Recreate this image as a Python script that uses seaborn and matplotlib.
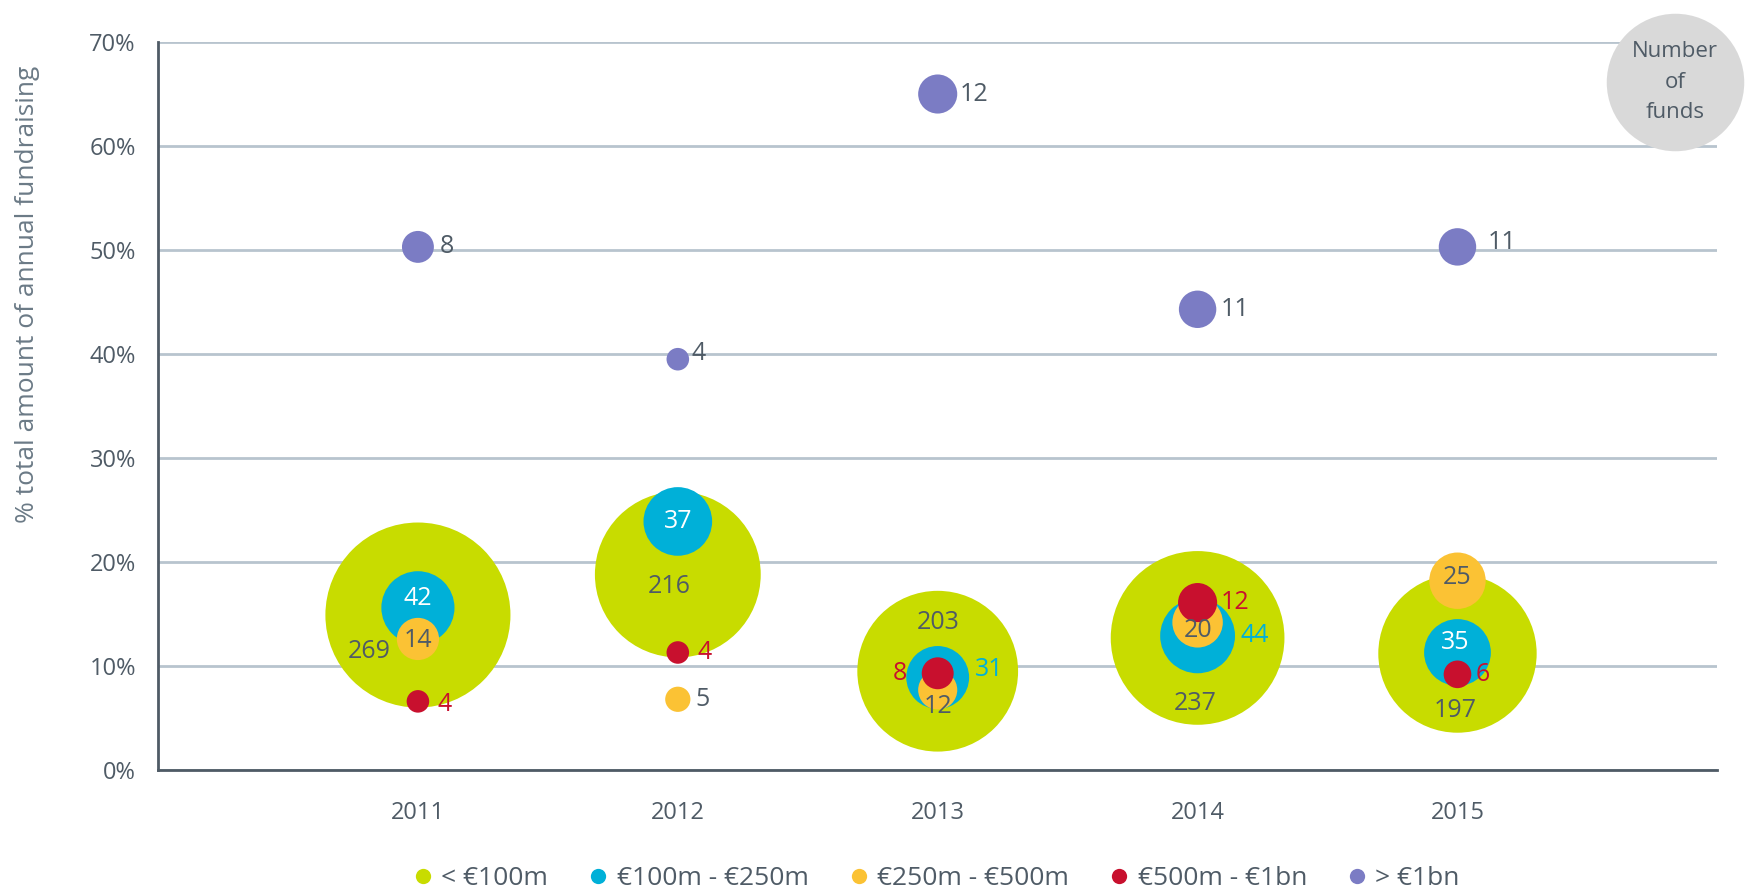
import matplotlib
matplotlib.use("Agg")
import matplotlib.pyplot as plt
from matplotlib.lines import Line2D
import pandas as pd
import seaborn as sns

# data
years = ["2011", "2012", "2013", "2014", "2015"]
series = ["< €100m", "€100m - €250m", "€250m - €500m", "€500m - €1bn", "> €1bn"]

pct_lt100 = [14.9, 18.8, 9.5, 12.7, 11.2]
pct_100_250 = [15.6, 23.9, 8.9, 12.9, 11.3]
pct_250_500 = [12.6, 6.8, 7.7, 14.2, 18.2]
pct_500_1bn = [6.6, 11.3, 9.3, 16.1, 9.2]
pct_gt1bn = [50.3, 39.5, 65.0, 44.3, 50.3]

funds_lt100 = [269, 216, 203, 237, 197]
funds_100_250 = [42, 37, 31, 44, 35]
funds_250_500 = [14, 5, 12, 20, 25]
funds_500_1bn = [4, 4, 8, 12, 6]
funds_gt1bn = [8, 4, 12, 11, 11]

colors = ["#C8DC00", "#00B0D8", "#FBC234", "#C8102E", "#7B7CC4"]
grey = "#4F5B66"

pcts = [pct_lt100, pct_100_250, pct_250_500, pct_500_1bn, pct_gt1bn]
funds = [funds_lt100, funds_100_250, funds_250_500, funds_500_1bn, funds_gt1bn]

rows = []
for s, p, f in zip(series, pcts, funds):
    for i, y in enumerate(years):
        rows.append({"year": y, "xpos": i + 1, "series": s, "pct": p[i], "funds": f[i]})
df = pd.DataFrame(rows)

# label offsets (points) and colours per (series index, year index)
lbl_style = {
    (0, 0): (-35, -26, grey), (1, 0): (0, 7, "white"), (2, 0): (0, -1, grey),
    (3, 0): (19, -2, "#C8102E"), (4, 0): (21, 0, grey),
    (0, 1): (-6, -9, grey), (1, 1): (0, 0, "white"), (2, 1): (18, 0, grey),
    (3, 1): (19, 0, "#C8102E"), (4, 1): (15, 4, grey),
    (0, 2): (0, 35, grey), (1, 2): (37, 6, "#00B0D8"), (2, 2): (0, -12, grey),
    (3, 2): (-27, 0, "#C8102E"), (4, 2): (26, 0, grey),
    (0, 3): (-2, -47, grey), (1, 3): (41, 0, "#00B0D8"), (2, 3): (0, -6, grey),
    (3, 3): (27, 0, "#C8102E"), (4, 3): (27, 0, grey),
    (0, 4): (-2, -41, grey), (1, 4): (-2, 7, "white"), (2, 4): (0, 2, grey),
    (3, 4): (18, 0, "#C8102E"), (4, 4): (32, 3, grey),
}

sns.set_style("white")
plt.rcParams["font.family"] = ["Open Sans", "DejaVu Sans"]

fig = plt.figure(figsize=(17.56, 8.94), dpi=100)
ax = fig.add_axes([0.090, 0.1387, 0.888, 0.8143])

nmin, nmax = df["funds"].min(), df["funds"].max()
k = 66.0
sns.scatterplot(data=df, x="xpos", y="pct", hue="series", palette=colors,
                size="funds", sizes=(k * nmin, k * nmax), size_norm=(nmin, nmax),
                linewidth=0, alpha=1, legend=False, ax=ax, zorder=3, clip_on=False)

for si, (p, f) in enumerate(zip(pcts, funds)):
    for yi in range(len(years)):
        dx, dy, c = lbl_style[(si, yi)]
        ax.annotate(str(f[yi]), (yi + 1, p[yi]), xytext=(dx, dy), textcoords="offset points",
                    ha="center", va="center", fontsize=18, color=c, zorder=5)

ax.set_xlim(0, 6)
ax.set_ylim(0, 70)
ax.set_xticks(range(1, 6))
ax.set_xticklabels(years)
ax.set_yticks(range(0, 71, 10))
ax.set_yticklabels([f"{v}%" for v in range(0, 71, 10)])
ax.tick_params(axis="both", labelsize=17, colors=grey, length=8, width=1.5, direction="out")
ax.tick_params(axis="x", pad=14)
ax.tick_params(axis="y", pad=8)
ax.set_xlabel("")
ax.set_ylabel("% total amount of annual fundraising", fontsize=19, color="#6B7A86")
ax.yaxis.set_label_coords(-0.076, 0.654)

ax.yaxis.grid(True, color="#B8C4CE", linewidth=2, zorder=0)
ax.set_axisbelow(True)
sns.despine(ax=ax, top=True, right=True)
for side in ["left", "bottom"]:
    ax.spines[side].set_color(grey)
    ax.spines[side].set_linewidth(2)

# "Number of funds" badge
ax.scatter([0.973], [0.945], s=9800, color="#D9D9D9", transform=ax.transAxes,
           clip_on=False, zorder=4, linewidth=0)
ax.text(0.973, 0.945, "Number\nof\nfunds", transform=ax.transAxes, ha="center", va="center",
        fontsize=16, color=grey, linespacing=1.6, zorder=5)

handles = [Line2D([0], [0], marker="o", linestyle="", markersize=11, color=c,
                  markeredgewidth=0) for c in colors]
fig.legend(handles, series, loc="center", bbox_to_anchor=(0.533, 0.017), ncol=5,
           frameon=False, fontsize=19, handlelength=0.8, handletextpad=0.3,
           columnspacing=1.5, labelcolor=grey)

fig.savefig("out.png", dpi=100)
